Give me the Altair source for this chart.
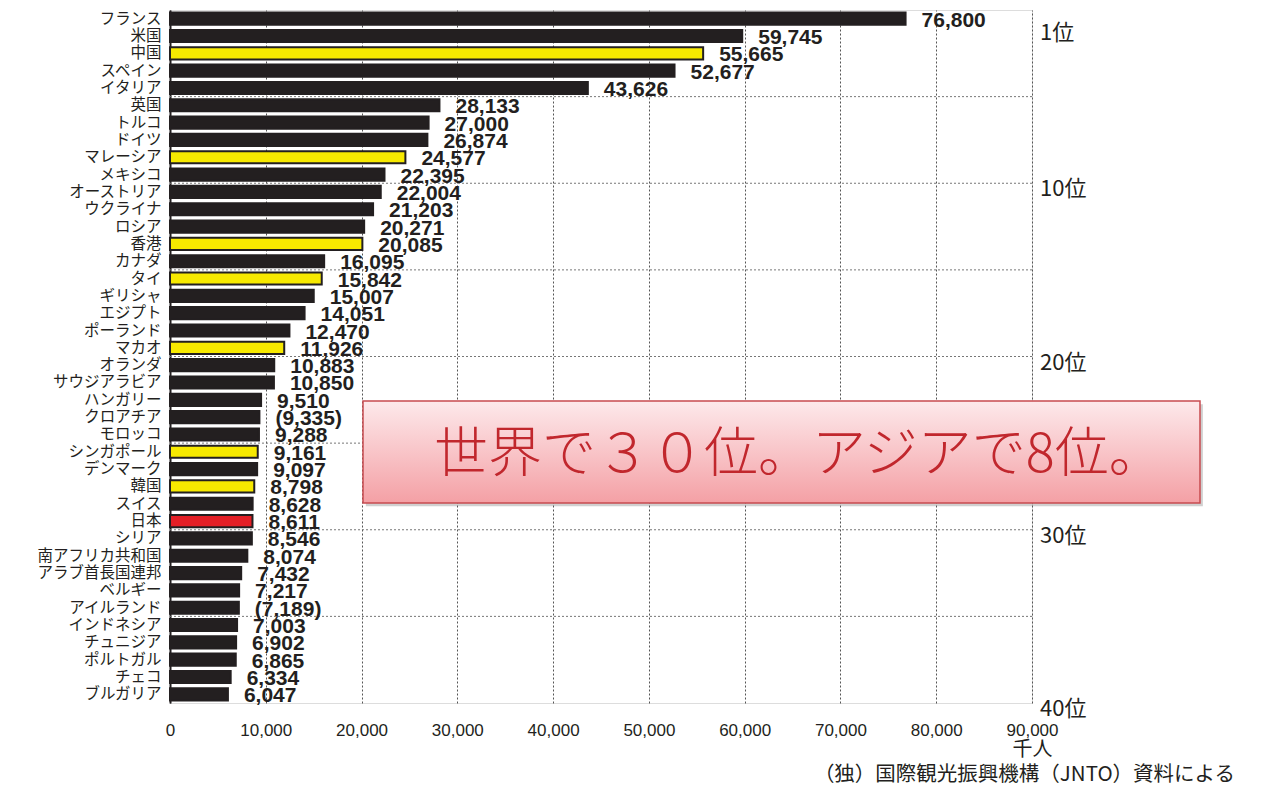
import altair as alt
import pandas as pd

countries = ["フランス", "米国", "中国", "スペイン", "イタリア", "英国", "トルコ", "ドイツ",
             "マレーシア", "メキシコ", "オーストリア", "ウクライナ", "ロシア", "香港", "カナダ",
             "タイ", "ギリシャ", "エジプト", "ポーランド", "マカオ", "オランダ", "サウジアラビア",
             "ハンガリー", "クロアチア", "モロッコ", "シンガポール", "デンマーク", "韓国", "スイス",
             "日本", "シリア", "南アフリカ共和国", "アラブ首長国連邦", "ベルギー", "アイルランド",
             "インドネシア", "チュニジア", "ポルトガル", "チェコ", "ブルガリア"]
values = [76800, 59745, 55665, 52677, 43626, 28133, 27000, 26874, 24577, 22395,
          22004, 21203, 20271, 20085, 16095, 15842, 15007, 14051, 12470, 11926,
          10883, 10850, 9510, 9335, 9288, 9161, 9097, 8798, 8628, 8611,
          8546, 8074, 7432, 7217, 7189, 7003, 6902, 6865, 6334, 6047]
asia = ["中国", "マレーシア", "香港", "タイ", "マカオ", "シンガポール", "韓国"]
japan = ["日本"]
estimated = ["クロアチア", "アイルランド"]
rank_marks = [1, 10, 20, 30, 40]
rank_texts = ["1位", "10位", "20位", "30位", "40位"]
grid_ranks = [5, 10, 15, 20, 25, 30, 35]
x_ticks = [0, 10000, 20000, 30000, 40000, 50000, 60000, 70000, 80000, 90000]
unit_label = "千人"
source_label = "（独）国際観光振興機構（JNTO）資料による"
callout = "世界で３０位。アジアで8位。"

df = pd.DataFrame({"country": countries, "value": values})
df["group"] = ["japan" if c in japan else ("asia" if c in asia else "other") for c in countries]
df["label"] = [("({:,})" if c in estimated else "{:,}").format(v) for c, v in zip(countries, values)]

W, H = 862, 693
DARK = "#231f20"
JP = "Noto Sans CJK JP"

xs = alt.Scale(domain=[0, 90000], nice=False, zero=True)
rank_scale = alt.Scale(domain=[0, 40], reverse=True, nice=False, zero=False)

bars = alt.Chart(df).mark_bar(stroke=DARK, strokeWidth=2).encode(
    x=alt.X("value:Q", scale=xs,
            axis=alt.Axis(values=x_ticks, format=",d", title=unit_label,
                          grid=True, gridDash=[2, 2], gridColor="#555555", gridWidth=1,
                          ticks=False, domain=False, labelPadding=19, labelFlush=False,
                          labelFont="Liberation Sans", labelFontSize=17, labelColor=DARK,
                          titleX=W, titleY=46, titleAlign="center", titleBaseline="middle",
                          titleFont=JP, titleFontSize=20, titleFontWeight="normal",
                          titleColor=DARK)),
    y=alt.Y("country:N", sort=countries,
            scale=alt.Scale(paddingInner=0.3, paddingOuter=0.15),
            axis=alt.Axis(title=None, ticks=False, labelPadding=9, labelFont=JP,
                          labelFontSize=15.5, labelColor=DARK, domainColor=DARK,
                          domainWidth=2, grid=False, labelLimit=300)),
    fill=alt.Fill("group:N",
                  scale=alt.Scale(domain=["other", "asia", "japan"],
                                  range=[DARK, "#f7e900", "#e41f26"]),
                  legend=None),
)

texts = alt.Chart(df).mark_text(
    align="left", baseline="middle", dx=16, dy=2,
    font="Liberation Sans, Arial, sans-serif",
    fontWeight="bold", fontSize=21, color=DARK,
).encode(
    x=alt.X("value:Q", scale=xs),
    y=alt.Y("country:N", sort=countries),
    text="label:N",
)

hrules = alt.Chart(pd.DataFrame({"r": grid_ranks})).mark_rule(
    strokeDash=[2, 2], color="#777777", strokeWidth=1
).encode(y=alt.Y("r:Q", scale=rank_scale, axis=None))

dummy = pd.DataFrame({"a": [0]})

shadow = alt.Chart(dummy).mark_rect(color="#777777", opacity=0.35).encode(
    x=alt.X(datum=20450, type="quantitative", scale=xs),
    x2=alt.X2(datum=107840),
    y=alt.Y(datum=22.75, type="quantitative", scale=rank_scale, axis=None),
    y2=alt.Y2(datum=28.64),
)

box = alt.Chart(dummy).mark_rect(
    fill=alt.LinearGradient(
        gradient="linear",
        stops=[alt.GradientStop(color="#fde9eb", offset=0),
               alt.GradientStop(color="#f4a0a5", offset=1)],
        x1=0, x2=0, y1=0, y2=1),
    stroke="#c84b50", strokeWidth=1.5,
).encode(
    x=alt.X(datum=20150, type="quantitative", scale=xs),
    x2=alt.X2(datum=107540),
    y=alt.Y(datum=22.57, type="quantitative", scale=rank_scale, axis=None),
    y2=alt.Y2(datum=28.46),
)

box_text = alt.Chart(dummy).mark_text(
    text=callout, font=JP, fontSize=54, fontWeight=300, color="#c1272d",
    align="center", baseline="middle",
).encode(
    x=alt.X(datum=65600, type="quantitative", scale=xs),
    y=alt.Y(datum=25.75, type="quantitative", scale=rank_scale, axis=None),
)

rank_text = alt.Chart(pd.DataFrame({"r": rank_marks, "t": rank_texts})).mark_text(
    align="left", baseline="middle", dx=8, dy=6, font=JP, fontSize=22, color=DARK,
).encode(
    x=alt.X(datum=90000, type="quantitative", scale=xs),
    y=alt.Y("r:Q", scale=rank_scale, axis=None),
    text="t:N",
)

chart = alt.layer(
    hrules, alt.layer(bars, texts), shadow, box, box_text, rank_text
).resolve_scale(y="independent").properties(
    width=W, height=H,
    autosize=alt.AutoSizeParams(type="none"),
    padding={"left": 170, "top": 10, "right": 234, "bottom": 87},
    title=alt.TitleParams(text=source_label, orient="bottom", anchor="end", frame="group",
                          dx=203, offset=6, font=JP, fontSize=20.5, fontWeight="normal",
                          color=DARK),
).configure_view(stroke="#9d9d9d", strokeWidth=2.5).configure(background="white")

chart.save("out.html", embed_options={"renderer": "svg", "actions": False})
